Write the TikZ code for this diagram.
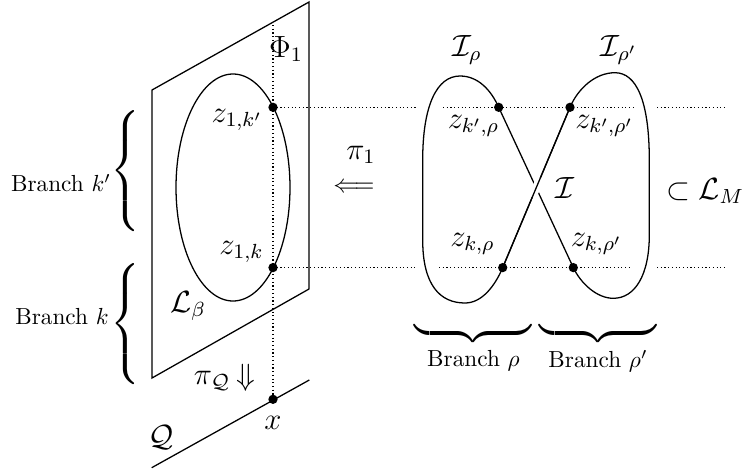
\documentclass[tikz,border=0pt]{standalone}
\usepackage{exscale}
\usetikzlibrary{calc}
\begin{document}
\begin{tikzpicture}[x=0.43pt,y=-0.43pt,line width=0.55pt,
  lab/.style={font=\large, inner sep=0pt, scale=1.1},
  txt/.style={inner sep=0pt},
  brc/.style={inner sep=0pt, font=\Large},
  dotline/.style={line width=0.5pt, dash pattern=on 0.5pt off 1.1pt},
  blob/.style={fill=black}]
\useasboundingbox (0,0) rectangle (744,472);
% plane Phi_1 and the curve L_beta
\draw (152,378) -- (152,90) -- (309,2) -- (309,289) -- cycle;
\draw (233,187.5) ellipse [x radius=57, y radius=113.5];
% base line Q
\coordinate (q1) at (151.7,467.7);
\coordinate (q2) at (309.3,380);
\draw (q1) -- (q2);
% points on the left
\coordinate (vtop) at (273,25);
\coordinate (zA) at (273,107.3);
\coordinate (zB) at (273,267.6);
\coordinate (xq) at (273,399.3);
\draw[dotline] (vtop) -- (xq);
% points on the right curve
\coordinate (A) at (498.7,107.3);
\coordinate (B) at (502.7,267.6);
\coordinate (C) at (570,107.3);
\coordinate (D) at (573.3,267.6);
% horizontal dotted lines
\coordinate (h1a) at (416,107.3);
\coordinate (h1b) at (443,107.3);
\coordinate (h1c) at (634,107.3);
\coordinate (h1d) at (657,107.3);
\coordinate (h1e) at (727,107.3);
\coordinate (h2a) at (415,267.6);
\coordinate (h2b) at (439,267.6);
\coordinate (h2c) at (632,267.6);
\coordinate (h2d) at (657,267.6);
\coordinate (h2e) at (727,267.6);
\draw[dotline] (zA) -- (h1a) (h1b) -- (h1c) (h1d) -- (h1e);
\draw[dotline] (zB) -- (h2a) (h2b) -- (h2c) (h2d) -- (h2e);
% figure eight
\draw (A) .. controls (491,90) and (478,76) .. (460,76)
  .. controls (437,76) and (422.7,105) .. (422.7,160) -- (422.7,240)
  .. controls (422.7,285) and (440,303) .. (465,303)
  .. controls (482,303) and (495,285.8) .. (B) -- (C)
  .. controls (577.8,88.9) and (595,72.7) .. (615,72.7)
  .. controls (636,72.7) and (649.3,100) .. (649.3,160) -- (649.3,235)
  .. controls (649.3,275) and (635,298.3) .. (613.3,298.3)
  .. controls (597,298.3) and (580.9,283.6) .. (D) -- cycle;
\draw[white,line width=3.5pt] ($(B)!0.44!(C)$) -- ($(B)!0.56!(C)$);
\draw (B) -- (C);
% dots
\foreach \p in {zA,zB,xq,A,B,C,D} \fill[blob] (\p) circle[radius=2pt];
% labels
\node[lab] (phi) at (286,49) {$\Phi_1$};
\node[lab] (lzA) at (237,120) {$z_{1,k'}$};
\node[lab] (lzB) at (241.5,252) {$z_{1,k}$};
\node[lab] (lbeta) at (188,306) {$\mathcal{L}_\beta$};
\node[lab] (piQ) at (212,381) {$\pi_{\mathcal{Q}}$};
\node[lab] (darr) at (245.5,377.5) {$\Downarrow$};
\node[lab] (lx) at (273,422.7) {$x$};
\node[lab] (lQ) at (161.5,437.5) {$\mathcal{Q}$};
\node[lab] (pi1) at (361,155) {$\pi_1$};
\node[txt,scale=1.1,anchor=base] (larr) at (354,192.5) {$\smash{\Longleftarrow}$};
\node[lab] (Irho) at (467,50) {$\mathcal{I}_\rho$};
\node[lab] (Irhop) at (619,50) {$\mathcal{I}_{\rho'}$};
\node[lab] (lA) at (473.5,126) {$z_{k',\rho}$};
\node[lab] (lC) at (604.5,126) {$z_{k',\rho'}$};
\node[lab] (lI) at (565,188.5) {$\mathcal{I}$};
\node[lab] (lLM) at (705,191) {$\subset\mathcal{L}_M$};
\node[lab] (lB) at (472.5,244) {$z_{k,\rho}$};
\node[lab] (lD) at (596.5,244) {$z_{k,\rho'}$};
% branches
\node[brc] (bkp) at (126.5,173) {$\left\{\vrule height 24pt depth 24pt width 0pt\right.$};
\node[brc] (bk) at (126.5,326) {$\left\{\vrule height 24pt depth 24pt width 0pt\right.$};
\node[txt] (tkp) at (61,183) {Branch $k'$};
\node[txt] (tk) at (62,317) {Branch $k$};
\node[brc] (brho) at (473,333) {$\underbrace{\hspace{50pt}}$};
\node[brc] (brhop) at (598,333) {$\underbrace{\hspace{50pt}}$};
\node[txt] (trho) at (473.5,361) {Branch $\rho$};
\node[txt] (trhop) at (598,361) {Branch $\rho'$};
\end{tikzpicture}
\end{document}
